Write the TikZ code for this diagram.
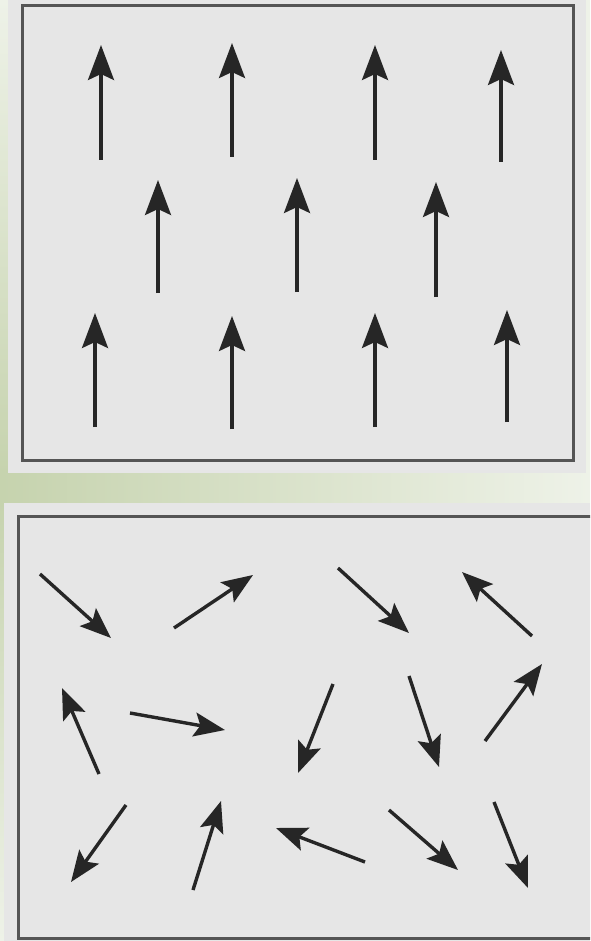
\documentclass[tikz,border=0pt]{standalone}
\usepackage{xcolor}
\usepackage{tikz}
\usetikzlibrary{arrows.meta}

\definecolor{panelgray}{HTML}{E6E6E6}
\definecolor{framegray}{HTML}{555555}
\definecolor{sagegreen}{HTML}{C6D3AE}
\definecolor{palegreen}{HTML}{EEF2E8}
\definecolor{spinblack}{HTML}{262626}

\begin{document}
\begin{tikzpicture}[x=1pt, y=-1pt,
    panel/.style={fill=panelgray},
    frame/.style={draw=framegray, line width=3pt, fill=panelgray},
    spin/.style={-{Stealth[length=35pt, width=26pt, inset=6pt]}, line width=3.4pt, draw=spinblack},
    tilt/.style={spin, -{Stealth[length=31pt, width=24pt, inset=6pt]}}
]
    \useasboundingbox (0,0) rectangle (590,941);
    \clip (0,0) rectangle (590,941);
    \shade[left color=sagegreen, right color=palegreen] (0,0) rectangle (590,941);
    \shade[top color=palegreen, bottom color=sagegreen] (0,0) rectangle (8,473);
    \shade[top color=sagegreen, bottom color=palegreen] (0,503) rectangle (4,941);

    % ordered panel
    \fill[panel] (8,0) rectangle (586,473);
    \draw[frame] (22,6) rectangle (573,460);
    \foreach \x/\ytip/\ytail in {101/45/160, 232/43/157, 375/45/160, 501/50/162,
                                 158/180/293, 297/178/292, 436/182/297,
                                  95/313/427, 232/316/429, 375/313/427, 507/310/422}
        \draw[spin] (\x,\ytail) -- (\x,\ytip);

    % disordered panel
    \fill[panel] (4,503) rectangle (590,941);
    \draw[frame] (18,516) rectangle (604,938);
    \foreach \xa/\ya/\xb/\yb in {40/574/111/638, 174/628/253/575, 338/568/409/633, 532/636/462/572,
                                 99/774/62/688, 130/713/225/730, 333/684/298/773, 409/676/439/767, 485/741/542/664,
                                 126/805/71/882, 193/890/221/801, 365/862/276/828, 389/810/458/870, 494/802/528/888}
        \draw[tilt] (\xa,\ya) -- (\xb,\yb);
\end{tikzpicture}
\end{document}
